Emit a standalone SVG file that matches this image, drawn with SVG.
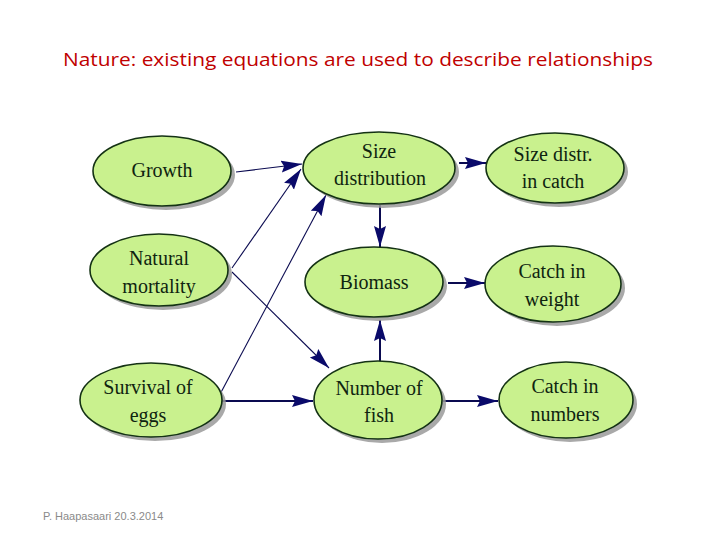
<svg xmlns="http://www.w3.org/2000/svg" width="720" height="540" viewBox="0 0 720 540">
<style>
.sh{fill:#9a9a9a;opacity:0.85}
.nd{fill:#c9f18e;stroke:#143214;stroke-width:1.6}
.lb{font-family:"Liberation Serif","Times New Roman",serif;font-size:20px;fill:#0f2410;text-anchor:middle}
.c{stroke:#0a0a50;fill:none}
.t{stroke-width:1.1}
.k{stroke-width:2}
</style>
<defs>
<marker id="ah" markerUnits="userSpaceOnUse" markerWidth="24" markerHeight="14" refX="21" refY="6" orient="auto">
<path d="M0,0 L21,6 L0,12 L3,6 z" fill="#0a0a6a"/>
</marker>
</defs>
<rect width="720" height="540" fill="#ffffff"/>
<text x="358" y="66" font-family="'Open Sans','Liberation Sans',sans-serif" font-size="19" fill="#c00000" text-anchor="middle" textLength="590" lengthAdjust="spacingAndGlyphs">Nature: existing equations are used to describe relationships</text>
<g id="connectors">
<path class="c t" d="M236,172 L302,164" marker-end="url(#ah)"/>
<path class="c t" d="M232,268 L301,169" marker-end="url(#ah)"/>
<path class="c t" d="M232,272 L329,368" marker-end="url(#ah)"/>
<path class="c t" d="M218,398 L326,195" marker-end="url(#ah)"/>
<path class="c k" d="M215,401 L313,401" marker-end="url(#ah)"/>
<path class="c k" d="M380,205 L380,247" marker-end="url(#ah)"/>
<path class="c k" d="M380,362 L380,320" marker-end="url(#ah)"/>
<path class="c k" d="M459,163 L486,163" marker-end="url(#ah)"/>
<path class="c k" d="M448,283 L485,283" marker-end="url(#ah)"/>
<path class="c k" d="M443,401 L498,401" marker-end="url(#ah)"/>
</g>
<g id="growth">
<ellipse class="sh" cx="166" cy="175" rx="69" ry="35"/>
<ellipse class="nd" cx="162" cy="171" rx="69" ry="35"/>
<text class="lb" x="162" y="177">Growth</text>
</g>
<g id="natural-mortality">
<ellipse class="sh" cx="163" cy="274" rx="69" ry="36"/>
<ellipse class="nd" cx="159" cy="270" rx="69" ry="36"/>
<text class="lb" x="159" y="265">Natural</text>
<text class="lb" x="159" y="293">mortality</text>
</g>
<g id="survival-of-eggs">
<ellipse class="sh" cx="155" cy="404" rx="71" ry="37"/>
<ellipse class="nd" cx="151" cy="400" rx="71" ry="37"/>
<text class="lb" x="148" y="394">Survival of</text>
<text class="lb" x="148" y="422">eggs</text>
</g>
<g id="size-distribution">
<ellipse class="sh" cx="383" cy="172" rx="76" ry="36"/>
<ellipse class="nd" cx="379" cy="168" rx="76" ry="36"/>
<text class="lb" x="379" y="158">Size</text>
<text class="lb" x="380" y="185">distribution</text>
</g>
<g id="biomass">
<ellipse class="sh" cx="378" cy="286" rx="69" ry="35"/>
<ellipse class="nd" cx="374" cy="282" rx="69" ry="35"/>
<text class="lb" x="374" y="289">Biomass</text>
</g>
<g id="number-of-fish">
<ellipse class="sh" cx="382" cy="404" rx="64" ry="39"/>
<ellipse class="nd" cx="378" cy="400" rx="64" ry="39"/>
<text class="lb" x="379" y="395">Number of</text>
<text class="lb" x="379" y="422">fish</text>
</g>
<g id="size-distr-in-catch">
<ellipse class="sh" cx="559" cy="172" rx="69" ry="35"/>
<ellipse class="nd" cx="555" cy="168" rx="69" ry="35"/>
<text class="lb" x="553" y="161">Size distr.</text>
<text class="lb" x="553" y="188">in catch</text>
</g>
<g id="catch-in-weight">
<ellipse class="sh" cx="557" cy="288" rx="68" ry="38"/>
<ellipse class="nd" cx="553" cy="284" rx="68" ry="38"/>
<text class="lb" x="552" y="278">Catch in</text>
<text class="lb" x="552" y="306">weight</text>
</g>
<g id="catch-in-numbers">
<ellipse class="sh" cx="570" cy="404" rx="67" ry="38"/>
<ellipse class="nd" cx="566" cy="400" rx="67" ry="38"/>
<text class="lb" x="565" y="393">Catch in</text>
<text class="lb" x="565" y="421">numbers</text>
</g>
<text x="43" y="520" font-family="'Liberation Sans',Arial,sans-serif" font-size="11" fill="#8a8a8a">P. Haapasaari 20.3.2014</text>
</svg>
